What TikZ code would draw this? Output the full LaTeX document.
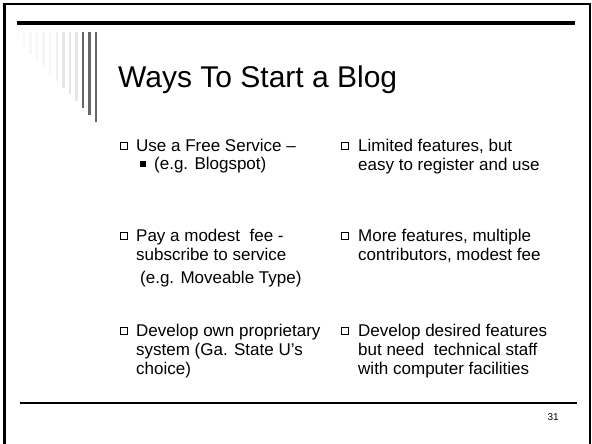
\documentclass[tikz,border=0pt]{standalone}
\usepackage{fontspec}
\setmainfont{Liberation Sans}
\begin{document}
\begin{tikzpicture}[x=1pt,y=-1pt,
  body/.style={anchor=base west,inner sep=0pt,font=\fontsize{17}{19}\selectfont},
  titletext/.style={anchor=base west,inner sep=0pt,font=\fontsize{30}{34}\selectfont},
  openbox/.style={draw=black,line width=0.9pt,fill=white,minimum size=7.5pt,inner sep=0pt},
  fullbox/.style={fill=black,minimum size=5.5pt,inner sep=0pt},
  stripe/.style={line width=2.4pt}]
\useasboundingbox (0,0) rectangle (592,444);
\fill[white] (0,0) rectangle (592,444);
% frame
\draw[line width=2pt] (4,4) rectangle (590,450);
\draw[line width=3pt] (4,3) -- (4,444);
% top rule
\draw[line width=4pt] (17,23) -- (575,23);
% stripes
\foreach \i/\c in {0/black!1,1/black!2,2/black!3,3/black!3,4/black!4,5/black!4,6/black!6,7/black!10,8/black!10,9/black!10,10/black!60,11/black!60,12/black!60}{
  \draw[stripe,draw=\c] ({17.3+6.58*\i},32) -- ({17.3+6.58*\i},{40+6.8*\i});
}
% title
\node[titletext] (title) at (118,88) {Ways To Start a Blog};
% left column
\node[openbox] (b1) at (124,146) {};
\node[body] (t1) at (136,151) {Use a Free Service –};
\node[fullbox] (s1) at (143,164) {};
\node[body] (t1s) at (154,169) {(e.g. Blogspot)};
\node[openbox] (b2) at (124,236) {};
\node[body] (t2a) at (136,241) {Pay a modest\ \ fee -};
\node[body] (t2b) at (136,260) {subscribe to service};
\node[body] (t2c) at (140,283) {(e.g. Moveable Type)};
\node[openbox] (b3) at (124,331) {};
\node[body] (t3a) at (136,336) {Develop own proprietary};
\node[body] (t3b) at (136,355) {system (Ga. State U’s};
\node[body] (t3c) at (136,374) {choice)};
% right column
\node[openbox] (r1) at (345,146) {};
\node[body] (u1a) at (358,151) {Limited features, but};
\node[body] (u1b) at (358,170) {easy to register and use};
\node[openbox] (r2) at (345,236) {};
\node[body] (u2a) at (358,241) {More features, multiple};
\node[body] (u2b) at (358,260) {contributors, modest fee};
\node[openbox] (r3) at (345,331) {};
\node[body] (u3a) at (358,336) {Develop desired features};
\node[body] (u3b) at (358,355) {but need\ \ technical staff};
\node[body] (u3c) at (358,374) {with computer facilities};
% bottom rule
\draw[line width=1.2pt] (20,403) -- (577,403);
\node[anchor=base east,inner sep=0pt,font=\fontsize{10}{11}\selectfont] (pg) at (559,420) {31};
\end{tikzpicture}
\end{document}
